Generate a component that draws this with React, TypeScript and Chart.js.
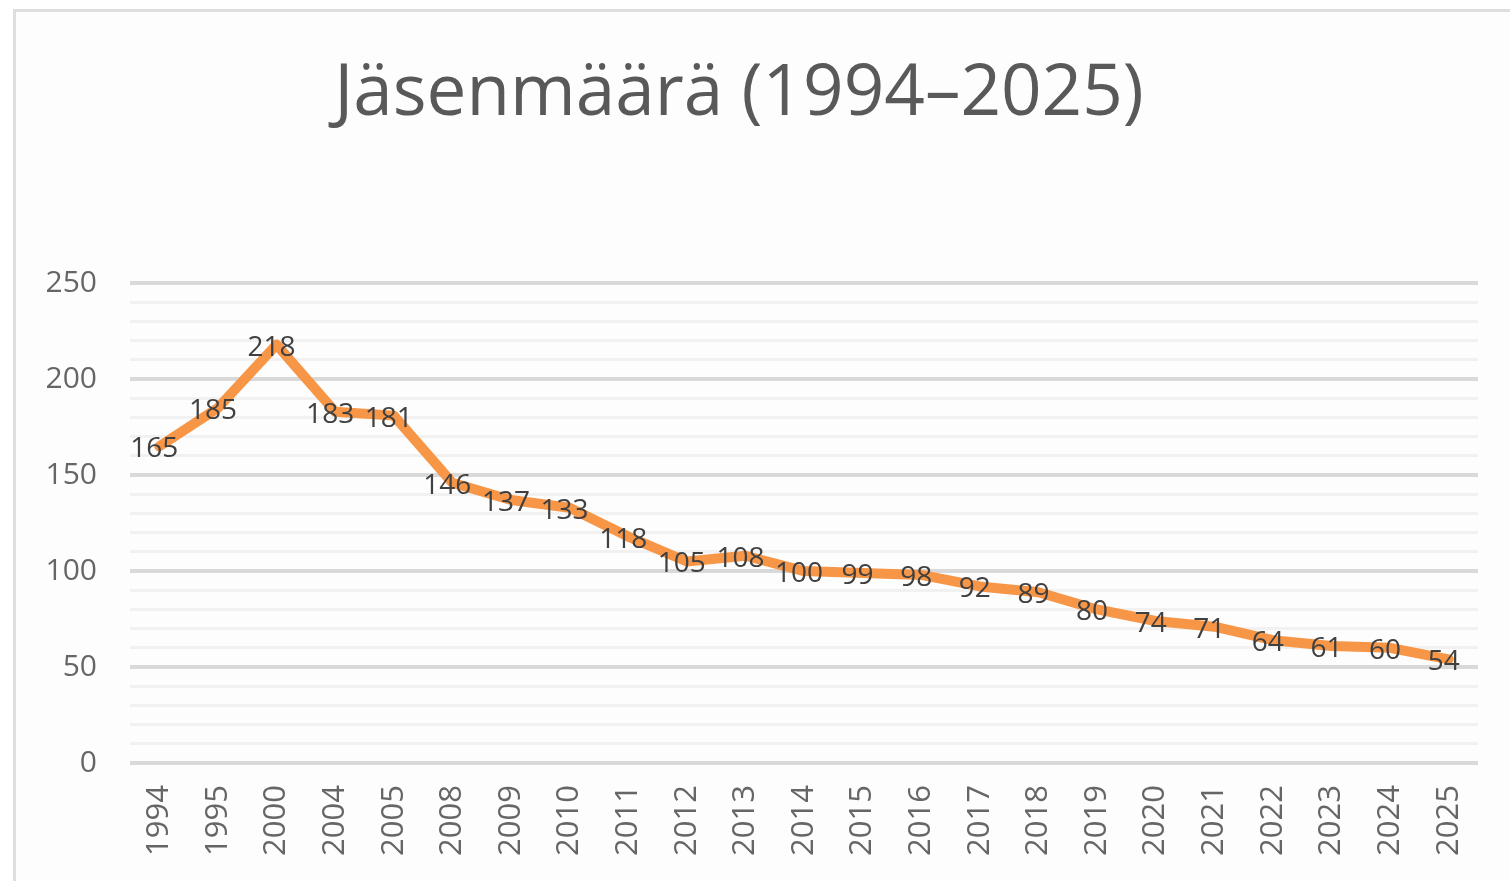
import React, { useEffect, useRef } from "react";
import { Chart, registerables } from "chart.js";

Chart.register(...registerables);

const TITLE = "Jäsenmäärä (1994–2025)";
const YEARS = [
  "1994", "1995", "2000", "2004", "2005", "2008", "2009", "2010", "2011", "2012", "2013",
  "2014", "2015", "2016", "2017", "2018", "2019", "2020", "2021", "2022", "2023", "2024", "2025",
];
const MEMBERS = [
  165, 185, 218, 183, 181, 146, 137, 133, 118, 105, 108,
  100, 99, 98, 92, 89, 80, 74, 71, 64, 61, 60, 54,
];
const Y_MIN = 0;
const Y_MAX = 250;
const Y_MINOR_STEP = 10;
const Y_LABEL_STEP = 50;

const FONT = "'Open Sans', 'DejaVu Sans', sans-serif";

const dataLabelPlugin = {
  id: "dataLabels",
  afterDatasetsDraw(chart: any) {
    const { ctx } = chart;
    const meta = chart.getDatasetMeta(0);
    const values = chart.data.datasets[0].data as number[];
    ctx.save();
    ctx.font = `28px ${FONT}`;
    ctx.fillStyle = "#404040";
    ctx.textAlign = "center";
    ctx.textBaseline = "middle";
    meta.data.forEach((pt: any, i: number) => {
      ctx.fillText(String(values[i]), pt.x - 5, pt.y + 3);
    });
    ctx.restore();
  },
};

export default function App() {
  const ref = useRef<HTMLCanvasElement | null>(null);

  useEffect(() => {
    if (!ref.current) return;
    const chart = new Chart(ref.current, {
      type: "line",
      data: {
        labels: YEARS,
        datasets: [
          {
            data: MEMBERS,
            borderColor: "#F79646",
            backgroundColor: "#F79646",
            borderWidth: 10,
            borderJoinStyle: "round",
            borderCapStyle: "round",
            pointRadius: 0,
            pointHoverRadius: 0,
            tension: 0,
            fill: false,
          },
        ],
      },
      options: {
        animation: false,
        responsive: true,
        maintainAspectRatio: false,
        layout: { padding: { left: 0, right: 32, top: 0, bottom: 0 } },
        plugins: {
          legend: { display: false },
          tooltip: { enabled: false },
          title: {
            display: true,
            text: TITLE,
            color: "#595959",
            font: { family: FONT, size: 71, weight: "normal" },
            padding: { top: 52, bottom: 146 },
          },
        },
        scales: {
          x: {
            offset: true,
            grid: { display: false, drawTicks: false },
            border: { display: false },
            ticks: {
              color: "#666666",
              font: { family: FONT, size: 31 },
              maxRotation: 90,
              minRotation: 90,
              autoSkip: false,
              padding: 22,
            },
            afterFit: (scale: any) => {
              scale.height = 118;
            },
          },
          y: {
            min: Y_MIN,
            max: Y_MAX,
            grid: {
              drawTicks: false,
              color: (c: any) => (c.tick && c.tick.value % Y_LABEL_STEP === 0 ? "#d9d9d9" : "#f1f1f1"),
              lineWidth: (c: any) => (c.tick && c.tick.value % Y_LABEL_STEP === 0 ? 4 : 3),
            },
            border: { display: false },
            ticks: {
              stepSize: Y_MINOR_STEP,
              color: "#666666",
              font: { family: FONT, size: 30 },
              padding: 33,
              autoSkip: false,
              callback: (v: any) => (Number(v) % Y_LABEL_STEP === 0 ? String(v) : ""),
            },
            afterFit: (scale: any) => {
              scale.width = 130;
            },
          },
        },
      },
      plugins: [dataLabelPlugin],
    });
    return () => chart.destroy();
  }, []);

  return (
    <div style={{ position: "fixed", left: 0, top: 0, width: 1510, height: 881, background: "#ffffff" }}>
      <div
        style={{
          position: "absolute",
          left: 13,
          top: 9,
          width: 1510,
          height: 881,
          borderLeft: "3px solid #dedede",
          borderTop: "3px solid #dedede",
          background: "#fdfdfd",
        }}
      />
      <canvas ref={ref} style={{ position: "absolute", left: 0, top: 0, width: 1510, height: 881 }} />
    </div>
  );
}
